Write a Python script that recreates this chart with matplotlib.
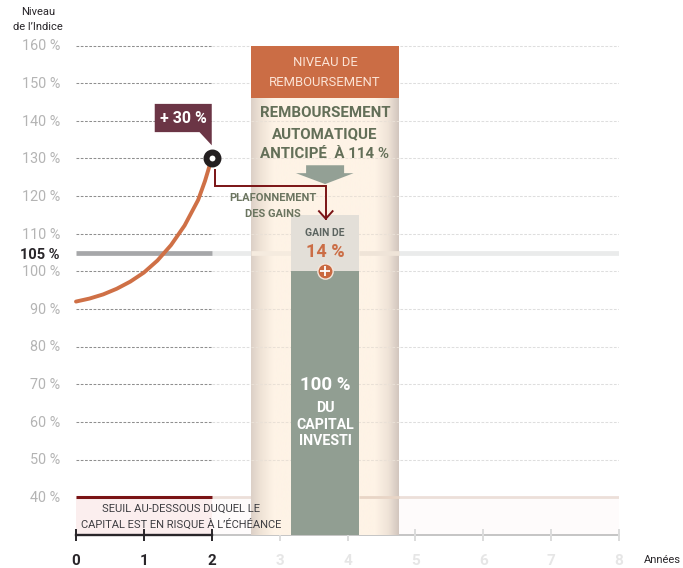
import matplotlib
matplotlib.use('Agg')
import matplotlib.pyplot as plt
import numpy as np
from matplotlib.colors import LinearSegmentedColormap
from matplotlib.patches import Polygon, Rectangle

W, H = 683, 568

# data
levels = [40, 50, 60, 70, 80, 90, 100, 110, 120, 130, 140, 150, 160]
level_labels = [f'{v} %' for v in levels]
years = [0, 1, 2, 3, 4, 5, 6, 7, 8]
index_x = [0, 0.2, 0.4, 0.6, 0.8, 1.0, 1.2, 1.4, 1.6, 1.8, 1.9, 2.0]
index_y = [92, 92.8, 93.9, 95.4, 97.3, 99.7, 102.9, 107, 112.2, 119, 124, 130]
coupon_barrier = 105
capital_barrier = 40
redemption_level = 146
capital = 100
gain_top = 115

plt.rcParams['font.family'] = ['Roboto', 'DejaVu Sans']

fig = plt.figure(figsize=(W / 100, H / 100), dpi=100)
# axis box: x 0..8 = px 76..619, y 30..165 = px 535..27
ax = fig.add_axes([76 / W, (H - 535) / H, (619 - 76) / W, (535 - 26.7) / H])
ax.set_xlim(0, 8)
ax.set_ylim(30, 165)
ax.set_axis_off()


def label(x, y, s, **kw):
    # text placed in reference pixels
    kw.setdefault('ha', 'center')
    kw.setdefault('va', 'center')
    fig.text(x / W, 1 - y / H, s, **kw)


panel_left, panel_right = 2.58, 4.76
bar_left, bar_right = 3.17, 4.17

# grid
for v in levels[1:]:
    ax.plot([0, 2], [v, v], color='#8f8f8f', lw=0.75, dashes=(2.6, 1.5), zorder=1)
    ax.plot([2, 8], [v, v], color='#dedede', lw=0.75, dashes=(2.6, 1.5), zorder=1)
    if v < redemption_level:
        # faint trace of the grid through the panel
        ax.plot([panel_left, panel_right], [v, v], color='#e9e0d6', lw=0.75, dashes=(2.6, 1.5), zorder=4.5)

# 105 % band
ax.plot([2, 8], [coupon_barrier] * 2, color='#eaebeb', lw=3.4, solid_capstyle='butt', zorder=1)
ax.plot([0, 2], [coupon_barrier] * 2, color='#a6a7a9', lw=3.4, solid_capstyle='butt', zorder=2)
ax.plot([bar_right, panel_right], [coupon_barrier] * 2, color='#efe4d8', lw=3.4, solid_capstyle='butt', zorder=4.5)
ax.plot([panel_left, bar_left], [coupon_barrier] * 2, color='#f5ebdf', lw=3.4, solid_capstyle='butt', zorder=4.5)

# 40 % threshold
ax.add_patch(Rectangle((0, 30), 2, capital_barrier - 30, color='#fbeeee', lw=0, zorder=1))
ax.add_patch(Rectangle((2, 30), 6, capital_barrier - 30, color='#fefbfb', lw=0, zorder=1))
ax.plot([2, 8], [capital_barrier] * 2, color='#ecdfd9', lw=2, solid_capstyle='butt', zorder=1)
ax.plot([0, 2], [capital_barrier] * 2, color='#7a1315', lw=2.2, solid_capstyle='butt', zorder=2)
ax.plot([bar_right, panel_right], [capital_barrier] * 2, color='#e8d5c6', lw=2, solid_capstyle='butt', zorder=4.5)

# x axis
ax.plot([2, 8], [30, 30], color='#b5b5b5', lw=1.1, zorder=1, clip_on=False)
ax.plot([0, 2], [30, 30], color='#29262a', lw=1.7, zorder=3, clip_on=False)
for yr in years:
    on = yr <= 2
    ax.plot([yr, yr], [28.4, 31.6], color='#29262a' if on else '#dcdcdc', lw=1.4,
            zorder=3 if on else 1, clip_on=False, solid_capstyle='butt')
    label(76 + yr * 67.875, 561, str(yr), fontsize=11, fontweight='bold',
          color='#29262a' if on else '#e6e6e6')

# redemption panel with shaded edges
shade = LinearSegmentedColormap.from_list('shade', [(0, '#dcd0c7'), (0.06, '#eee2d5'), (0.15, '#fef3e6'),
                                                    (0.84, '#fef3e6'), (0.93, '#efe3d7'), (1, '#d2c6be')])
ax.imshow(np.linspace(0, 1, 256).reshape(1, -1), cmap=shade, aspect='auto',
          extent=[panel_left, panel_right, 30, redemption_level], zorder=4)
ax.add_patch(Rectangle((panel_left, redemption_level), panel_right - panel_left, 160 - redemption_level,
                       color='#cb6d45', lw=0, zorder=4))
ax.set_xlim(0, 8)
ax.set_ylim(30, 165)

label(325, 63, 'NIVEAU DE', fontsize=9.4, color='#fbe3d5', zorder=9)
label(325, 82, 'REMBOURSEMENT', fontsize=9.4, color='#fbe3d5', zorder=9)
for y, s in [(113, 'REMBOURSEMENT'), (134, 'AUTOMATIQUE'), (154, 'ANTICIPÉ  À 114 %')]:
    label(325, y, s, fontsize=10.8, fontweight='bold', color='#636f58', zorder=9)

# arrow between text and bar
ax.add_patch(Polygon([(3.39, 128.2), (3.95, 128.2), (3.95, 126.1), (4.09, 126.1), (3.67, 123.2),
                      (3.24, 126.1), (3.39, 126.1)], color='#93a095', lw=0, zorder=5))

# capital and gain bars
ax.add_patch(Rectangle((bar_left, 30), bar_right - bar_left, capital - 30, color='#919e92', lw=0, zorder=5))
ax.add_patch(Rectangle((bar_left, capital), bar_right - bar_left, gain_top - capital,
                       color='#e3dfd8', lw=0, zorder=5))

label(325, 233, 'GAIN DE', fontsize=7.5, fontweight='bold', color='#5c6460', zorder=9)
label(325, 252, '14 %', fontsize=13, fontweight='bold', color='#cb6d45', zorder=9)
label(325, 385, '100 %', fontsize=13.5, fontweight='bold', color='white', zorder=9)
for y, s in [(408, 'DU'), (425, 'CAPITAL'), (441, 'INVESTI')]:
    label(325, y, s, fontsize=10.2, fontweight='bold', color='white', zorder=9)

# plus badge
ax.plot([3.67], [capital], 'o', ms=11, mfc='#c9683f', mec='#f3e6dc', mew=1, zorder=6)
ax.plot([3.67], [capital], '+', ms=7, mec='white', mew=1.3, zorder=7)

# index path
ax.plot(index_x, index_y, color='#cf7046', lw=2.8, solid_capstyle='round', zorder=6, clip_on=False)
ax.plot(index_x[-1:], index_y[-1:], 'o', ms=8.6, mfc='white', mec='#231f20', mew=4.3, zorder=7)

# + 30 % callout
ax.add_patch(Polygon([(1.16, 144.5), (2.0, 144.5), (2.0, 133.5), (1.82, 137), (1.16, 137)],
                     color='#6b3545', lw=0, zorder=7))
label(183, 118, '+ 30 %', fontsize=11.5, fontweight='bold', color='white', zorder=9)

# cap bracket
ax.plot([2.05, 2.05, 3.68, 3.68], [126.9, 122.7, 122.7, 114], color='#7a1315', lw=1.4,
        solid_joinstyle='miter', zorder=8)
ax.plot([3.58, 3.68, 3.78], [116, 114, 116], color='#7a1315', lw=1.4, zorder=8)
label(273, 198, 'PLAFONNEMENT', fontsize=8, fontweight='bold', color='#6b7560', zorder=9)
label(273, 214, 'DES GAINS', fontsize=8, fontweight='bold', color='#6b7560', zorder=9)

# axis labels
for v, s in zip(levels, level_labels):
    label(60, 498 - (v - 40) * 3.763, s, ha='right', fontsize=10.4, color='#b4b4b4')
label(60, 255, '105 %', ha='right', fontsize=10.5, fontweight='bold', color='#29262a')
label(38, 12, 'Niveau', fontsize=8, color='#29262a')
label(38, 27, 'de l’Indice', fontsize=8, color='#29262a')
label(662, 560, 'Années', fontsize=8, color='#29262a')

label(181, 509, 'SEUIL AU-DESSOUS DUQUEL LE', fontsize=8.1, color='#3e3e42', zorder=9)
label(181, 524, 'CAPITAL EST EN RISQUE À L’ÉCHÉANCE', fontsize=8, color='#3e3e42', zorder=9)

fig.savefig('out.png', dpi=100)
